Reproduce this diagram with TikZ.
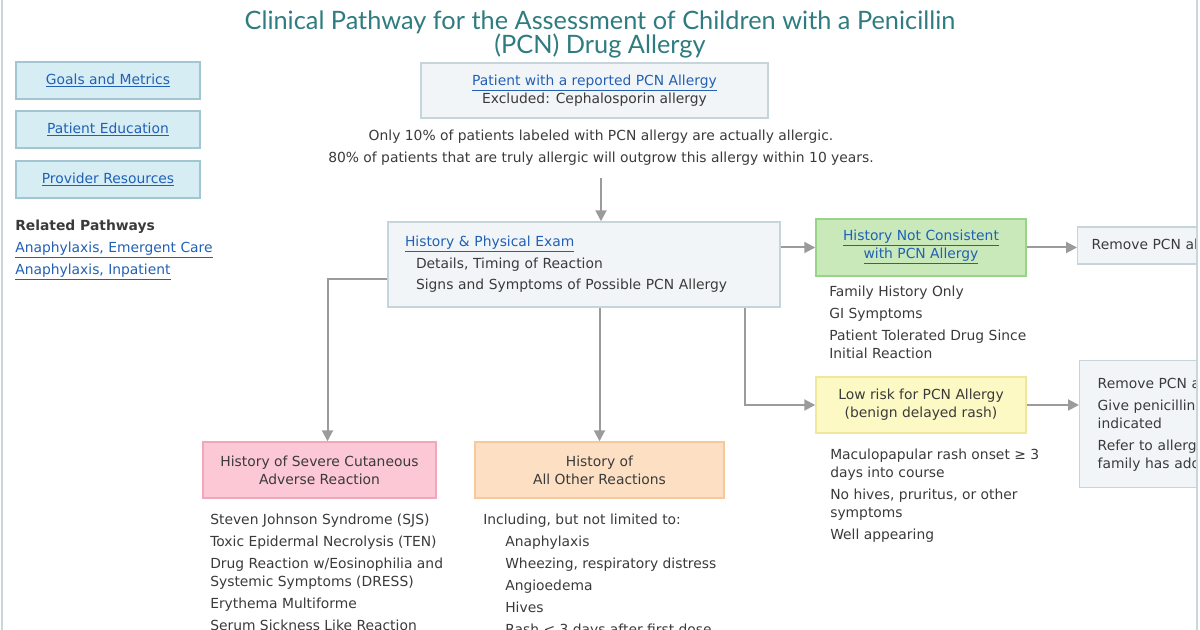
\documentclass[tikz,border=0pt]{standalone}
\usepackage{fontspec}
\setmainfont{DejaVu Sans}
\newfontfamily\titlefont{Lato}
\usetikzlibrary{arrows.meta,positioning}
\newdimen\px \px=0.75pt
\definecolor{txt}{HTML}{3A3A3A}
\definecolor{linkblue}{HTML}{2160B5}
\definecolor{teal}{HTML}{2F7C80}
\definecolor{boxline}{HTML}{C6D4DB}
\definecolor{boxfill}{HTML}{F2F5F7}
\definecolor{navline}{HTML}{A2C6D0}
\definecolor{navfill}{HTML}{D6EDF3}
\definecolor{greenline}{HTML}{98D488}
\definecolor{greenfill}{HTML}{C9E9BB}
\definecolor{yellowline}{HTML}{EFE79C}
\definecolor{yellowfill}{HTML}{FDF9C4}
\definecolor{pinkline}{HTML}{EFA8B9}
\definecolor{pinkfill}{HTML}{FCC8D6}
\definecolor{orangeline}{HTML}{F6C89C}
\definecolor{orangefill}{HTML}{FDE0C3}
\definecolor{arrgray}{HTML}{9B9B9B}
\definecolor{edge}{HTML}{C9D6DC}
\newcommand{\lnk}[1]{\textcolor{linkblue}{\underline{#1}}}

\begin{document}
\begin{tikzpicture}[
  x=0.75pt, y=-0.75pt,
  font=\fontsize{10.4}{13.5}\selectfont, text=txt,
  box/.style={draw=boxline, fill=boxfill, line width=1.1pt, align=center, inner sep=0pt},
  navbox/.style={box, draw=navline, fill=navfill, minimum width=138pt, minimum height=27.75pt},
  catbox/.style={box, minimum height=42pt},
  list/.style={anchor=north west, align=left, inner sep=0pt},
  arr/.style={draw=arrgray, line width=1.5pt, -{Triangle[width=8.25pt,length=8.25pt]}}
]
\useasboundingbox (0,0) rectangle (1200,630);
\begin{scope}
\clip (0,0) rectangle (1197,630);

\node[font=\titlefont\fontsize{19}{18}\selectfont, text=teal, align=center] (title) at (600,34)
  {Clinical Pathway for the Assessment of Children with a Penicillin\\(PCN) Drug Allergy};

\node[navbox] (goals) at (108,80.5)  {\lnk{Goals and Metrics}};
\node[navbox] (edu)   at (108,129.5) {\lnk{Patient Education}};
\node[navbox] (prov)  at (108,179.5) {\lnk{Provider Resources}};
\node[list] (related) at (15,219.5)
  {\textbf{Related Pathways}\\[3pt]\lnk{Anaphylaxis, Emergent Care}\\[3pt]\lnk{Anaphylaxis, Inpatient}};

\node[box, minimum width=260pt, minimum height=41.25pt] (patient) at (594.5,90.5)
  {\lnk{Patient with a reported PCN Allergy}\\Excluded: Cephalosporin allergy};
\node[align=center, inner sep=0pt] (note) at (601,148)
  {Only 10\% of patients labeled with PCN allergy are actually allergic.\\[3pt]
   80\% of patients that are truly allergic will outgrow this allergy within 10 years.};

\node[box, align=left, minimum height=63.75pt, text width=268.5pt, inner xsep=12.75pt,
      font=\fontsize{10.4}{16}\selectfont] (hpe) at (584,264.5)
  {\lnk{History \& Physical Exam}\\
   \hspace*{8.25pt}Details, Timing of Reaction\\
   \hspace*{8.25pt}Signs and Symptoms of Possible PCN Allergy};

\node[box, draw=greenline, fill=greenfill, minimum width=157.5pt, minimum height=42.75pt] (notcons) at (921,247.5)
  {\lnk{History Not Consistent}\\\lnk{with PCN Allergy}};
\node[box, anchor=west, align=left, minimum height=27.75pt, text width=129pt, inner xsep=10.5pt] (remove1) at (1077,245.5)
  {Remove PCN allergy};
\node[list] (notlist) at (829,285.5)
  {Family History Only\\[3pt]GI Symptoms\\[3pt]Patient Tolerated Drug Since\\Initial Reaction};

\node[box, draw=yellowline, fill=yellowfill, minimum width=157.5pt, minimum height=42pt] (lowrisk) at (921,405)
  {Low risk for PCN Allergy\\(benign delayed rash)};
\node[box, anchor=north west, align=left, minimum height=95.25pt, text width=127.5pt, inner xsep=13.5pt] (remove2) at (1079,360)
  {Remove PCN allergy\\[3pt]Give penicillin when\\indicated\\[3pt]Refer to allergy if\\family has adopted};
\node[list] (lowlist) at (830,448.5)
  {Maculopapular rash onset ≥ 3\\days into course\\[3pt]No hives, pruritus, or other\\symptoms\\[3pt]Well appearing};

\node[catbox, draw=pinkline, fill=pinkfill, minimum width=174.75pt] (severe) at (319.5,470)
  {History of Severe Cutaneous\\Adverse Reaction};
\node[catbox, draw=orangeline, fill=orangefill, minimum width=186.75pt] (other) at (599.5,470)
  {History of\\All Other Reactions};
\node[list] (sevlist) at (210,513.5)
  {Steven Johnson Syndrome (SJS)\\[3pt]Toxic Epidermal Necrolysis (TEN)\\[3pt]Drug Reaction w/Eosinophilia and\\Systemic Symptoms (DRESS)\\[3pt]Erythema Multiforme\\[3pt]Serum Sickness Like Reaction};
\node[list] (othlist) at (483,513.5)
  {Including, but not limited to:\\[3pt]
   \hspace*{16.5pt}Anaphylaxis\\[3pt]
   \hspace*{16.5pt}Wheezing, respiratory distress\\[3pt]
   \hspace*{16.5pt}Angioedema\\[3pt]
   \hspace*{16.5pt}Hives\\[3pt]
   \hspace*{16.5pt}Rash < 3 days after first dose};

\draw[arr, shorten <=9pt] (note.south) -- (note.south |- hpe.north);
\draw[arr] (hpe.east |- notcons.west) -- (notcons.west);
\draw[arr] (notcons.east) -- (notcons.east -| remove1.west);
\draw[arr] ([xshift=120.75pt]hpe.south) |- (lowrisk.west);
\draw[arr] (lowrisk.east) -- (lowrisk.east -| remove2.west);
\draw[arr] (other.north |- hpe.south) -- (other.north);
\draw[arr] ([yshift=-11.25pt]hpe.west) -| ([xshift=6pt]severe.north);
\end{scope}

\draw[draw=edge, line width=1.5pt] (2,0) -- (2,630);
\draw[draw=edge, line width=1.5pt] (1197,0) -- (1197,630);
\end{tikzpicture}
\end{document}
